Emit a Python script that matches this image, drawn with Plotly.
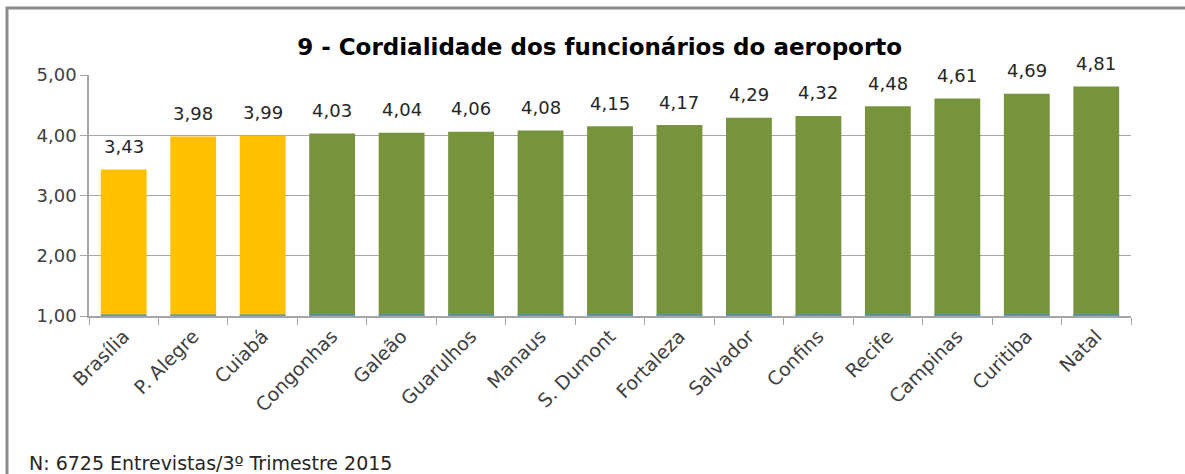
import plotly.graph_objects as go

airports = ["Brasília", "P. Alegre", "Cuiabá", "Congonhas", "Galeão", "Guarulhos", "Manaus",
            "S. Dumont", "Fortaleza", "Salvador", "Confins", "Recife", "Campinas", "Curitiba", "Natal"]
scores = [3.43, 3.98, 3.99, 4.03, 4.04, 4.06, 4.08, 4.15, 4.17, 4.29, 4.32, 4.48, 4.61, 4.69, 4.81]
highlight_count = 3
yellow = "#FFC000"
green = "#77933C"
colors = [yellow if i < highlight_count else green for i in range(len(airports))]
labels = [f"{v:.2f}".replace(".", ",") for v in scores]
y_ticks = [1, 2, 3, 4, 5]
y_tick_text = [f"{v:.2f}".replace(".", ",") for v in y_ticks]
axis_base = 1.0
blue_strip = [0.035] * len(airports)

FONT = "'DejaVu Sans', sans-serif"

fig = go.Figure()
fig.add_trace(go.Bar(
    x=airports, y=[s - axis_base for s in scores], base=axis_base,
    marker=dict(color=colors, line=dict(width=0)),
    width=0.66, hoverinfo="skip",
))
fig.add_trace(go.Bar(
    x=airports, y=blue_strip, base=axis_base - 0.012,
    marker=dict(color="#4F95D6", line=dict(width=0)),
    width=0.66, hoverinfo="skip", cliponaxis=False,
))

annotations = [dict(x=a, y=s, text=t, xref="x", yref="y", showarrow=False,
                    yanchor="middle", yshift=23,
                    font=dict(size=18, color="#262626", family=FONT))
               for a, s, t in zip(airports, scores, labels)]
annotations.append(dict(text="N: 6725 Entrevistas/3º Trimestre 2015", xref="paper", yref="paper",
                        x=-0.0595, y=-0.61, xanchor="left", yanchor="middle", showarrow=False,
                        font=dict(size=19, color="#262626", family=FONT)))

fig.update_layout(
    width=1185, height=474,
    barmode="overlay",
    showlegend=False,
    plot_bgcolor="white", paper_bgcolor="white",
    margin=dict(l=89, r=54, t=75, b=158),
    font=dict(family=FONT, color="#404040", size=16),
    title=dict(text="<b>9 - Cordialidade dos funcionários do aeroporto</b>",
               x=0.506, xanchor="center", y=0.9, yanchor="middle",
               font=dict(size=23, color="black", family=FONT)),
    xaxis=dict(tickangle=-45, tickfont=dict(size=19, color="#404040"),
               showline=True, linecolor="#A6A6A6", linewidth=1.5,
               ticks="outside", tickson="boundaries", ticklen=7, tickcolor="#A6A6A6",
               showgrid=False, layer="below traces"),
    yaxis=dict(range=[1, 5], tickvals=y_ticks, ticktext=y_tick_text,
               tickfont=dict(size=18, color="#404040"),
               showgrid=True, gridcolor="#A6A6A6", gridwidth=1.2,
               showline=True, linecolor="#A6A6A6", linewidth=1.5,
               ticks="outside", ticklen=7, tickcolor="#A6A6A6", zeroline=False),
    shapes=[dict(type="rect", xref="paper", yref="paper",
                 x0=-0.0787, x1=1.06, y0=-0.75, y1=1.278,
                 line=dict(color="#8C8C8C", width=3))],
    annotations=annotations,
)

fig.write_html("out.html", config={"displayModeBar": False},
               post_script="document.body.style.margin='0';document.body.style.padding='0';")
